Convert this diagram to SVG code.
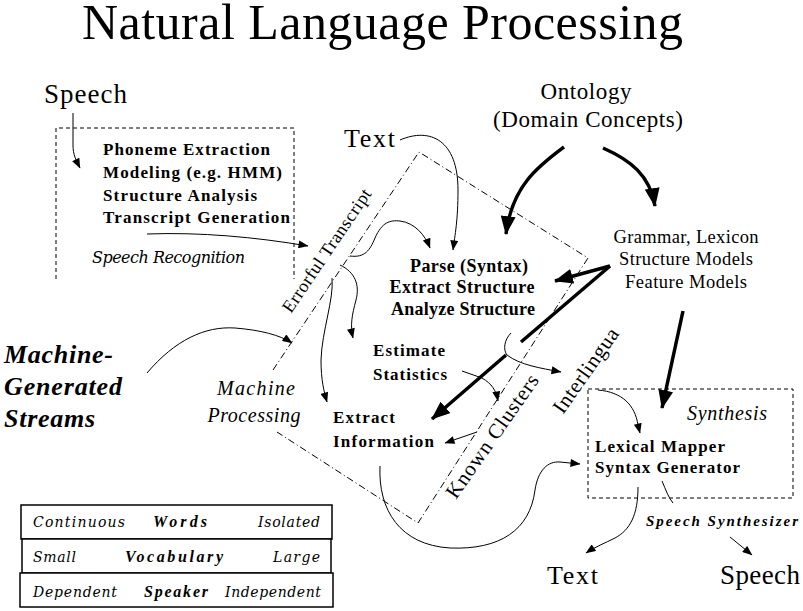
<svg xmlns="http://www.w3.org/2000/svg" width="803" height="611" viewBox="0 0 803 611">
<defs>
<marker id="ah" viewBox="0 0 10 8" refX="9.5" refY="4" markerWidth="11" markerHeight="8" orient="auto" markerUnits="userSpaceOnUse"><path d="M0,0L10,4L0,8z"/></marker>
<marker id="ahT" viewBox="0 0 10 8" refX="9.5" refY="4" markerWidth="19" markerHeight="15" orient="auto" markerUnits="userSpaceOnUse"><path d="M0,0L10,4L0,8z"/></marker>
<style>
text{fill:#000}
.b{font-weight:bold}
.i{font-style:italic}
.thin{fill:none;stroke:#000;stroke-width:1}
.thick{fill:none;stroke:#000;stroke-width:3.5}
.dash{fill:none;stroke:#000;stroke-width:1;stroke-dasharray:4 3}
.dd{fill:none;stroke:#000;stroke-width:1;stroke-dasharray:7 3 1 3}
.box{fill:#fff;stroke:#000;stroke-width:1.5}
</style>
</defs>
<rect width="803" height="611" fill="#fff"/>

<g font-family="Liberation Serif, DejaVu Serif, serif">
<g id="title"><text x="82" y="39" font-size="50" textLength="601">Natural Language Processing</text></g>

<g id="frames">
<path class="dash" d="M56,279 V128 H294 V279"/>
<rect class="dash" x="588" y="389" width="205" height="109"/>
<path class="dd" d="M273,370 L419,152 L588,258 L418,523 L277,432"/>
</g>

<g id="speech-in"><text x="44" y="103" font-size="27" textLength="83">Speech</text></g>

<g id="speech-recognition">
<text class="b" x="103" y="155" font-size="17" textLength="167">Phoneme Extraction</text>
<text class="b" x="103" y="178" font-size="17" textLength="179">Modeling (e.g. HMM)</text>
<text class="b" x="103" y="201" font-size="17" textLength="154">Structure Analysis</text>
<text class="b" x="103" y="223" font-size="17" textLength="187">Transcript Generation</text>
<text class="i" x="92" y="263" font-size="16" font-family="DejaVu Serif, Liberation Serif, serif" textLength="153">Speech Recognition</text>
</g>

<g id="text-in"><text x="344" y="147" font-size="26" textLength="51">Text</text></g>

<g id="ontology">
<text x="586" y="99" font-size="23" text-anchor="middle" textLength="91">Ontology</text>
<text x="588" y="127" font-size="23" text-anchor="middle" textLength="190">(Domain Concepts)</text>
</g>

<g id="grammar">
<text x="686" y="243" font-size="18.5" text-anchor="middle" textLength="145">Grammar, Lexicon</text>
<text x="686" y="265" font-size="18.5" text-anchor="middle" textLength="134">Structure Models</text>
<text x="686" y="288" font-size="18.5" text-anchor="middle" textLength="122">Feature Models</text>
</g>

<g id="parse">
<text class="b" x="469" y="272" font-size="18" text-anchor="middle" textLength="118">Parse (Syntax)</text>
<text class="b" x="462" y="293" font-size="18" text-anchor="middle" textLength="145">Extract Structure</text>
<text class="b" x="463" y="315" font-size="18" text-anchor="middle" textLength="144">Analyze Structure</text>
</g>

<g id="estimate">
<text class="b" x="373" y="356" font-size="17" textLength="72">Estimate</text>
<text class="b" x="373" y="380" font-size="17" textLength="74">Statistics</text>
</g>

<g id="extract-info">
<text class="b" x="333" y="423" font-size="17" textLength="62">Extract</text>
<text class="b" x="333" y="447" font-size="17" textLength="101">Information</text>
</g>

<g id="machine-processing">
<text class="i" x="256" y="395" font-size="20" text-anchor="middle" textLength="78">Machine</text>
<text class="i" x="254" y="422" font-size="20" text-anchor="middle" textLength="93">Processing</text>
</g>

<g id="machine-streams">
<text class="b i" x="4" y="363" font-size="26" textLength="109">Machine-</text>
<text class="b i" x="4" y="395" font-size="26" textLength="118">Generated</text>
<text class="b i" x="4" y="427" font-size="26" textLength="91">Streams</text>
</g>

<g id="edge-labels">
<text transform="translate(291,314) rotate(-56)" font-size="18" textLength="145">Errorful Transcript</text>
<text transform="translate(456,500) rotate(-55)" font-size="21" textLength="146">Known Clusters</text>
<text transform="translate(563,415) rotate(-55)" font-size="21" textLength="99">Interlingua</text>
</g>

<g id="synthesis">
<text class="i" x="687" y="420" font-size="20" textLength="80">Synthesis</text>
<text class="b" x="595" y="452" font-size="17" textLength="130">Lexical Mapper</text>
<text class="b" x="595" y="473" font-size="17" textLength="145">Syntax Generator</text>
</g>

<g id="speech-synth"><text class="b i" x="646" y="526" font-size="15" textLength="152">Speech Synthesizer</text></g>

<g id="text-out"><text x="547" y="584" font-size="26" textLength="51">Text</text></g>
<g id="speech-out"><text x="720" y="584" font-size="27" textLength="80">Speech</text></g>

<g id="legend">
<rect class="box" x="21" y="505" width="311" height="34"/>
<rect class="box" x="22" y="539" width="309" height="34"/>
<rect class="box" x="20" y="573" width="313" height="34"/>
<g font-family="DejaVu Serif, Liberation Serif, serif" font-style="italic" font-size="14">
<text x="33" y="527" textLength="92">Continuous</text>
<text x="320" y="527" text-anchor="end" textLength="62">Isolated</text>
<text x="33" y="562" textLength="43">Small</text>
<text x="320" y="562" text-anchor="end" textLength="47">Large</text>
<text x="33" y="597" textLength="84">Dependent</text>
<text x="321" y="597" text-anchor="end" textLength="96">Independent</text>
</g>
<text class="b i" x="153" y="527" font-size="16" textLength="54">Words</text>
<text class="b i" x="125" y="562" font-size="16" textLength="98">Vocabulary</text>
<text class="b i" x="144" y="597" font-size="16" textLength="64">Speaker</text>
</g>
</g>

<g id="connectors">
<path class="thin" marker-end="url(#ah)" d="M73,113 L73,145 C73,155 76,160 80,168"/>
<path class="thin" marker-end="url(#ah)" d="M147,234 C200,232 255,237 308,246"/>
<path class="thin" marker-end="url(#ah)" d="M400,140 C430,127 458,140 458,190 C458,220 455,235 453,250"/>
<path class="thin" marker-end="url(#ah)" d="M350,256 C365,258 370,250 375,238 C382,222 390,220 400,221 C415,223 425,235 430,248"/>
<path class="thin" marker-end="url(#ah)" d="M340,265 C355,272 360,285 356,300 C352,315 350,325 353,338"/>
<path class="thin" marker-end="url(#ah)" d="M332,278 C334,300 322,330 321,360 C321,380 324,392 327,402"/>
<path class="thin" marker-end="url(#ah)" d="M147,373 C175,340 205,326 235,328 C260,330 280,335 292,343"/>
<path class="thick" marker-end="url(#ahT)" d="M564,147 C540,165 512,185 506,234"/>
<path class="thick" marker-end="url(#ahT)" d="M603,148 C630,160 650,175 655,206"/>
<path class="thick" marker-end="url(#ahT)" d="M610,266 L555,281"/>
<path class="thick" d="M610,266 L521,342"/>
<path class="thick" marker-end="url(#ahT)" d="M506,355 L432,419"/>
<path class="thin" marker-end="url(#ah)" d="M511,333 C504,340 503,350 507,355 C520,365 540,368 561,372"/>
<path class="thin" marker-end="url(#ah)" d="M462,371 L482,378 C492,384 496,390 498,401"/>
<path class="thin" marker-end="url(#ah)" d="M477,432 L445,443"/>
<path class="thin" marker-end="url(#ah)" d="M380,466 C378,510 400,545 450,548 C500,550 530,530 535,490 C538,470 548,461 560,462 L580,464"/>
<path class="thin" marker-end="url(#ah)" d="M598,390 C622,392 635,405 638,425 L640,433"/>
<path class="thick" marker-end="url(#ahT)" d="M683,311 L662,408"/>
<path class="thin" marker-end="url(#ah)" d="M638,487 C638,515 630,530 615,538 C605,543 595,547 586,553"/>
<path class="thin" d="M662,481 C666,490 668,497 673,503"/>
<path class="thin" marker-end="url(#ah)" d="M730,537 L752,555"/>
</g>
</svg>
